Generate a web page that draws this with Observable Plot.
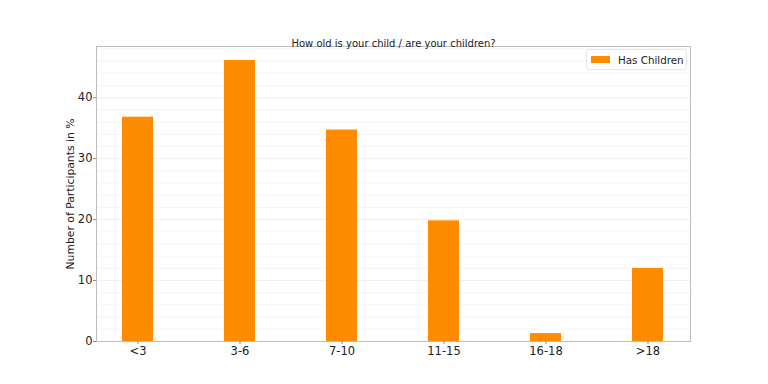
<!DOCTYPE html>
<html>
<head>
<meta charset="utf-8">
<script src="https://cdn.jsdelivr.net/npm/d3@7"></script>
<script src="https://cdn.jsdelivr.net/npm/@observablehq/plot@0.6"></script>
<style>
  html, body { margin: 0; padding: 0; background: #fff; }
  #wrap { position: relative; width: 768px; height: 384px; font-family: "DejaVu Sans", sans-serif; }
  #legend { position: absolute; left: 586px; top: 49px; width: 101px; height: 21px; box-sizing: border-box;
            border: 1px solid #e6e6e6; border-radius: 3px; background: rgba(255,255,255,0.85);
            display: flex; align-items: center; font-size: 10.3px; color: #222; white-space: nowrap; }
  #legend .sw { display: inline-block; flex: none; width: 19px; height: 7px; background: #ff8c00; margin: 0 8px 0 4px; }
</style>
</head>
<body>
<div id="wrap">
  <div id="chart"></div>
  <div id="legend"><span class="sw"></span><span>Has Children</span></div>
</div>
<script>
const categories = ["<3", "3-6", "7-10", "11-15", "16-18", ">18"];
const values = [36.8, 46.1, 34.7, 19.8, 1.3, 12.0];
const yTicks = [0, 10, 20, 30, 40];
const yMinorGrid = [2,4,6,8,12,14,16,18,22,24,26,28,32,34,36,38,42,44,46,48];
const titleText = "How old is your child / are your children?";
const yLabel = "Number of Participants in %";
const seriesName = "Has Children";

const data = categories.map((c, i) => ({category: c, value: values[i]}));

const chart = Plot.plot({
  width: 768,
  height: 384,
  marginLeft: 96,
  marginRight: 78,
  marginTop: 46,
  marginBottom: 43,
  style: {fontFamily: "DejaVu Sans, sans-serif", fontSize: "11px", color: "#222", background: "#fff"},
  x: {domain: categories, paddingInner: 0.696, paddingOuter: 0.24, label: null},
  y: {domain: [0, 48.4], label: null},
  marks: [
    Plot.ruleY(yMinorGrid, {stroke: "#f3f3f3", strokeWidth: 0.8}),
    Plot.ruleY(yTicks, {stroke: "#ebebeb", strokeWidth: 0.8}),
    Plot.barY(data, {x: "category", y: "value", fill: "#ff8c00"}),
    Plot.frame({stroke: "#bdbdbd", strokeWidth: 1}),
    Plot.axisY(yTicks, {tickSize: 3, tickPadding: 1, stroke: "#888", fontSize: 11.5, fill: "#222", label: null}),
    Plot.axisX(categories, {tickSize: 3, tickPadding: 2, stroke: "#888", fontSize: 11.5, fill: "#222", label: null}),
    Plot.text([yLabel], {frameAnchor: "left", dx: -26, rotate: -90, fontSize: 10.8, fill: "#222", textAnchor: "middle"}),
    Plot.text([titleText], {frameAnchor: "top", dy: -7, fontSize: 10, fill: "#222"})
  ]
});
document.getElementById("chart").appendChild(chart);
</script>
</body>
</html>
